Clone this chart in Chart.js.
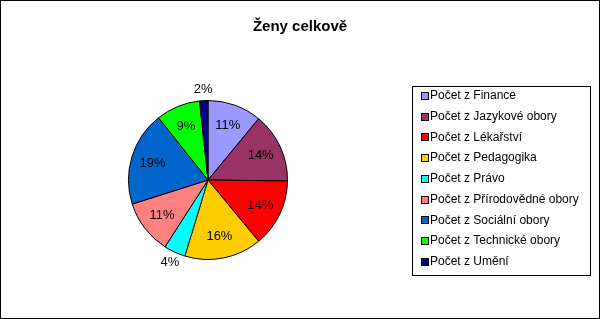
<!DOCTYPE html>
<html>
<head>
<meta charset="utf-8">
<script src="https://cdn.jsdelivr.net/npm/chart.js@4"></script>
<style>
  html, body { margin: 0; padding: 0; background: #fff; }
  #wrap { position: relative; width: 600px; height: 319px; box-sizing: border-box; border: 1px solid #000; }
  canvas { display: block; }
</style>
</head>
<body>
<div id="wrap"><canvas id="chart" width="598" height="317"></canvas></div>
<script>
// data (share of women per field, %)
const categories = ['Počet z Finance', 'Počet z Jazykové obory', 'Počet z Lékařství', 'Počet z Pedagogika',
  'Počet z Právo', 'Počet z Přírodovědné obory', 'Počet z Sociální obory', 'Počet z Technické obory', 'Počet z Umění'];
const values = [11, 14.2, 13.8, 15.7, 4.4, 11, 19.2, 9, 1.7];
const colors = ['#9999FF', '#993366', '#FF0000', '#FFCC00', '#00FFFF', '#FF8080', '#0066CC', '#00FF00', '#000080'];
const title = 'Ženy celkově';

const font = '"Liberation Sans", Arial, sans-serif';

// percent labels, small slices go outside
const labelPlugin = {
  id: 'labels',
  afterDatasetsDraw(chart) {
    const ctx = chart.ctx;
    const meta = chart.getDatasetMeta(0);
    const total = values.reduce((a, b) => a + b, 0);
    ctx.save();
    ctx.font = '13px ' + font;
    ctx.fillStyle = '#000';
    ctx.textAlign = 'center';
    ctx.textBaseline = 'middle';
    meta.data.forEach((arc, i) => {
      const pct = values[i] / total * 100;
      const mid = (arc.startAngle + arc.endAngle) / 2;
      const r = pct < 5 ? arc.outerRadius * 1.14 : arc.outerRadius * 0.73;
      const x = arc.x + Math.cos(mid) * r;
      const y = arc.y + Math.sin(mid) * r;
      ctx.fillText(Math.round(pct) + '%', x, y);
    });
    ctx.restore();
  }
};

// title and boxed legend like the excel original
const decorPlugin = {
  id: 'decor',
  afterDraw(chart) {
    const ctx = chart.ctx;
    ctx.save();
    ctx.font = 'bold 15px ' + font;
    ctx.fillStyle = '#000';
    ctx.textAlign = 'center';
    ctx.textBaseline = 'middle';
    ctx.fillText(title, 299, 26);

    // legend box
    ctx.strokeStyle = '#000';
    ctx.lineWidth = 1;
    ctx.strokeRect(411.5, 85.5, 178, 189);
    ctx.font = '12px ' + font;
    ctx.textAlign = 'left';
    categories.forEach((c, i) => {
      const y = 95 + i * 20.7;
      ctx.fillStyle = colors[i];
      ctx.fillRect(421, Math.round(y) - 3, 6, 6);
      ctx.strokeStyle = '#000';
      ctx.strokeRect(420.5, Math.round(y) - 3.5, 7, 7);
      ctx.fillStyle = '#000';
      ctx.fillText(c, 429, y);
    });
    ctx.restore();
  }
};

new Chart(document.getElementById('chart'), {
  type: 'pie',
  data: {
    labels: categories,
    datasets: [{
      data: values,
      backgroundColor: colors,
      borderColor: '#000',
      borderWidth: 1
    }]
  },
  options: {
    responsive: false,
    animation: false,
    layout: { padding: { left: 127, right: 311, top: 99, bottom: 58 } },
    plugins: {
      legend: { display: false },
      tooltip: { enabled: false },
      title: { display: false }
    }
  },
  plugins: [labelPlugin, decorPlugin]
});
</script>
</body>
</html>
